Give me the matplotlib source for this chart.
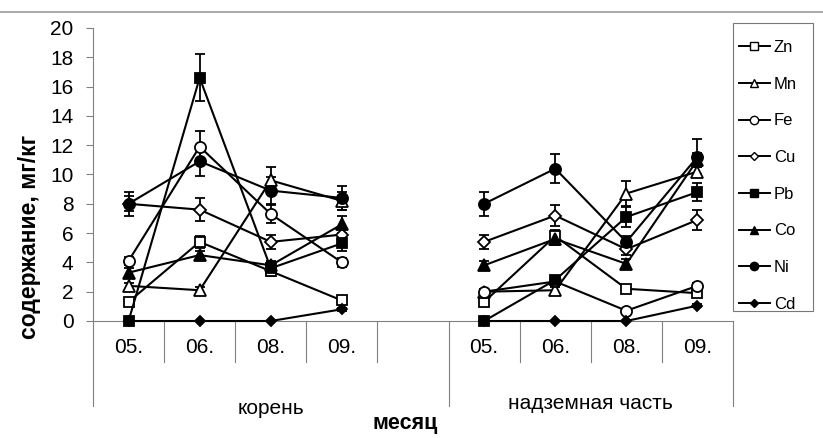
import numpy as np
import matplotlib
matplotlib.use('Agg')
import matplotlib.pyplot as plt
from matplotlib.lines import Line2D
from matplotlib.patches import Rectangle

plt.rcParams['font.family'] = ['Liberation Sans', 'DejaVu Sans']

# месяцы: корень (05-09), пустая ячейка, надземная часть (05-09)
months = ['05.', '06.', '08.', '09.', '', '05.', '06.', '08.', '09.']
groups = ['корень', 'надземная часть']
nan = np.nan

zn = [1.3, 5.4, 3.4, 1.4, nan, 1.3, 5.8, 2.2, 1.9]
mn = [2.4, 2.1, 9.6, 8.2, nan, 2.0, 2.1, 8.7, 10.2]
fe = [4.1, 11.9, 7.3, 4.0, nan, 2.0, 2.7, 0.7, 2.4]
cu = [8.0, 7.6, 5.4, 5.9, nan, 5.4, 7.2, 4.9, 6.9]
pb = [0.0, 16.6, 3.6, 5.3, nan, 0.0, 2.8, 7.1, 8.8]
co = [3.3, 4.5, 3.8, 6.6, nan, 3.8, 5.6, 3.9, 11.0]
ni = [8.0, 10.9, 8.9, 8.4, nan, 8.0, 10.4, 5.4, 11.2]
cd = [0.0, 0.0, 0.0, 0.8, nan, 0.0, 0.0, 0.0, 1.05]

# стандартные отклонения
zn_err = [0.2, 0.4, 0.3, 0.2, nan, 0.2, 0.4, 0.2, 0.2]
mn_err = [0.2, 0.2, 0.9, 0.6, nan, 0.2, 0.2, 0.85, 0.3]
fe_err = [0.3, 1.1, 0.6, 0.3, nan, 0.2, 0.3, 0.1, 0.2]
cu_err = [0.5, 0.8, 0.5, 0.5, nan, 0.5, 0.7, 0.4, 0.7]
pb_err = [0.0, 1.6, 0.4, 0.5, nan, 0.0, 0.3, 0.7, 0.6]
co_err = [0.3, 0.3, 0.3, 0.6, nan, 0.3, 0.4, 0.3, 0.5]
ni_err = [0.8, 1.0, 0.9, 0.8, nan, 0.8, 1.0, 0.4, 1.2]
cd_err = [0.0, 0.0, 0.0, 0.1, nan, 0.0, 0.0, 0.0, 0.1]

series = [
    ('Zn', zn, zn_err, 's', 'white', 7.5),
    ('Mn', mn, mn_err, '^', 'white', 8),
    ('Fe', fe, fe_err, 'o', 'white', 8),
    ('Cu', cu, cu_err, 'D', 'white', 6),
    ('Pb', pb, pb_err, 's', 'black', 7.5),
    ('Co', co, co_err, '^', 'black', 8),
    ('Ni', ni, ni_err, 'o', 'black', 8),
    ('Cd', cd, cd_err, 'D', 'black', 5.5),
]

W, H = 823, 438
fig = plt.figure(figsize=(W / 100, H / 100), dpi=100)
ax = fig.add_axes([93 / W, 117 / H, 640 / W, 293 / H])
x = np.arange(len(months))

handles = []
for name, vals, err, mk, fc, ms in series:
    ax.errorbar(x, vals, yerr=err, color='black', lw=1.5, marker=mk, ms=ms,
                mfc=fc, mec='black', mew=1.3, ecolor='black', elinewidth=1.3,
                capsize=3.5, capthick=1.3, clip_on=False)
    handles.append(Line2D([], [], color='black', lw=1.4, marker=mk, ms=ms * 0.75,
                          mfc=fc, mec='black', mew=1.0, label=name))

grey = '#808080'
ax.set_xlim(-0.5, 8.5)
ax.set_ylim(0, 20)
ax.set_yticks(np.arange(0, 21, 2))
ax.tick_params(axis='y', labelsize=15, length=5, width=0.8, color=grey,
               direction='out', pad=9)
ax.set_xticks([])
for s in ['top', 'right', 'bottom']:
    ax.spines[s].set_visible(False)
ax.spines['left'].set_linewidth(0.8)
ax.spines['left'].set_color(grey)
ax.axhline(0, color=grey, lw=0.8, clip_on=False, zorder=0.5)

# разделители категорий под осью
xt = ax.get_xaxis_transform()
for b in [0.5, 1.5, 2.5, 3.5, 5.5, 6.5, 7.5]:
    ax.plot([b, b], [0, -0.14], color=grey, lw=0.8, transform=xt, clip_on=False)
for b in [-0.5, 4.5, 8.5]:
    ax.plot([b, b], [0, -0.29], color=grey, lw=0.8, transform=xt, clip_on=False)

for i, m in enumerate(months):
    ax.text(i, -0.092, m, transform=xt, ha='center', va='center', fontsize=15)
ax.text(2.0, -0.30, groups[0], transform=xt, ha='center', va='center', fontsize=15)
ax.text(6.5, -0.283, groups[1], transform=xt, ha='center', va='center', fontsize=15)

fig.text(405 / W, 1 - 424 / H, 'месяц', ha='center', va='center',
         fontsize=15.5, fontweight='bold')
fig.text(30 / W, 1 - 237 / H, 'содержание, мг/кг', ha='center', va='center',
         rotation=90, fontsize=16.5, fontweight='bold')

# рамка легенды
fig.add_artist(Rectangle((733 / W, 1 - 311 / H), 80 / W, 288 / H,
                         transform=fig.transFigure, fill=False,
                         edgecolor='#777777', lw=0.8))
fig.legend(handles=handles, loc='upper left',
           bbox_to_anchor=(739 / W, 1 - 40 / H),
           prop={'size': 12}, frameon=False,
           handlelength=1.85, handletextpad=0.25, labelspacing=1.3,
           borderpad=0, borderaxespad=0)

# линия над графиком
fig.add_artist(Line2D([0, 1], [1 - 12 / H, 1 - 12 / H], color='#999999', lw=1.2))

fig.savefig('out.png', dpi=100)
